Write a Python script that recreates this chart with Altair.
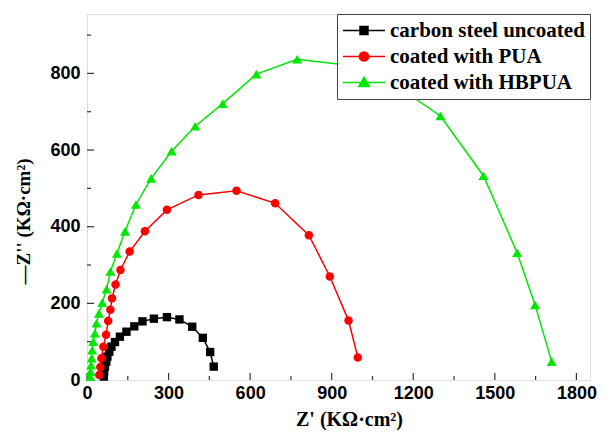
import altair as alt
import pandas as pd

# ---------------- data ----------------
series_names = ["carbon steel uncoated", "coated with PUA", "coated with HBPUA"]

steel_x = [62, 63, 66, 71, 75, 82, 90, 103, 121, 145, 174, 204, 246, 294, 340, 387, 426, 453, 466]
steel_y = [9, 22, 35, 48, 61, 74, 87, 99, 113, 126, 140, 153, 160, 164, 158, 139, 110, 73, 35]

pua_x = [45, 49, 53, 60, 70, 78, 86, 92, 105, 123, 157, 213, 294, 410, 550, 692, 816, 893, 962, 996]
pua_y = [13, 34, 57, 87, 118, 154, 183, 213, 249, 287, 335, 388, 444, 483, 494, 461, 378, 270, 155, 59]

hb_x = [12, 13, 15, 17, 19, 23, 29, 35, 44, 56, 72, 86, 110, 140, 180, 236, 311, 398, 499, 623, 773, 1040, 1300, 1458, 1582, 1648, 1709]
hb_y = [9, 22, 39, 57, 78, 100, 122, 148, 174, 202, 237, 283, 330, 388, 458, 526, 597, 662, 721, 798, 837, 815, 689, 533, 332, 196, 48]

x_major = [0, 300, 600, 900, 1200, 1500, 1800]
x_minor = [150, 450, 750, 1050, 1350, 1650]
y_major = [0, 200, 400, 600, 800]
y_minor = [100, 300, 500, 700, 900]

colors = ["#000000", "#ff0000", "#00e800"]
shapes = ["square", "circle", "triangle-up"]
marker_sizes = [70, 72, 100]

# legend symbols: line through marker (custom paths in unit space)
leg_paths = [
    "M-1,0L1,0M-0.19,-0.19L0.19,-0.19L0.19,0.19L-0.19,0.19Z",
    "M-1,0L1,0M0.22,0A0.22,0.22,0,1,1,-0.22,0A0.22,0.22,0,1,1,0.22,0Z",
    "M-1,0L1,0M0,-0.25L0.25,0.19L-0.25,0.19Z",
]

rows = []
for name, xs_, ys_ in zip(series_names, [steel_x, pua_x, hb_x], [steel_y, pua_y, hb_y]):
    for i, (a, b) in enumerate(zip(xs_, ys_)):
        rows.append({"series": name, "zr": a, "zi": b, "order": i})
df = pd.DataFrame(rows)

W, H = 503, 366
XDOM = [0, 1850]
YDOM = [0, 955]

xs = alt.Scale(domain=XDOM, nice=False, zero=False)
ys = alt.Scale(domain=YDOM, nice=False, zero=False)

legend = alt.Legend(
    title=None,
    orient="top-right",
    offset=0,
    fillColor="white",
    strokeColor="#444444",
    padding=5,
    labelFont="Liberation Serif",
    labelFontWeight="bold",
    labelFontSize=21,
    labelColor="black",
    labelOffset=4,
    labelLimit=400,
    symbolSize=1764,
    symbolStrokeWidth=1.5,
    symbolOpacity=1,
    clipHeight=23,
    rowPadding=3,
)

xaxis = alt.Axis(
    values=x_major, format="d", grid=False, ticks=False, domain=False,
    labelFont="Liberation Sans", labelFontWeight="bold", labelFontSize=18, labelColor="black",
    labelPadding=4, labelOverlap=False, labelFlush=False,
    title="Z' (KΩ·cm²)", titleFont="Liberation Serif", titleFontWeight="bold", titleFontSize=20,
    titleColor="black", titleX=262, titleY=29, titleBaseline="top",
)
yaxis = alt.Axis(
    values=y_major, format="d", grid=False, ticks=False, domain=False,
    labelFont="Liberation Sans", labelFontWeight="bold", labelFontSize=18, labelColor="black",
    labelPadding=7, labelOverlap=False, labelFlush=False,
    title="—Z'' (KΩ·cm²)", titleFont="Liberation Serif", titleFontWeight="bold", titleFontSize=19,
    titleColor="black", titleX=-54, titleY=207,
)

# colour scale for the drawn marks (domain listed in a different order than the legend's
# so the hidden colour legend is not merged with the visible one)
cmap = dict(zip(series_names, colors))
draw_domain = sorted(series_names)
draw_range = [cmap[n] for n in draw_domain]

base = alt.Chart(df)
color_nolegend = alt.Color("series:N", scale=alt.Scale(domain=draw_domain, range=draw_range), legend=None)

lines = base.mark_line(strokeWidth=1.5).encode(
    x=alt.X("zr:Q", scale=xs, axis=xaxis),
    y=alt.Y("zi:Q", scale=ys, axis=yaxis),
    color=color_nolegend,
    detail="series:N",
    order="order:Q",
)

point_layers = []
for name, shp, sz in zip(series_names, shapes, marker_sizes):
    point_layers.append(
        base.transform_filter(alt.datum.series == name)
        .mark_point(filled=True, size=sz, opacity=1, shape=shp)
        .encode(
            x=alt.X("zr:Q", scale=xs),
            y=alt.Y("zi:Q", scale=ys),
            color=color_nolegend,
        )
    )

# invisible layer that only feeds the legend (line-through-marker symbols)
legend_src = base.mark_point(filled=True, opacity=0, strokeWidth=1.5).encode(
    x=alt.X("zr:Q", scale=xs),
    y=alt.Y("zi:Q", scale=ys),
    fill=alt.Fill("series:N", scale=alt.Scale(domain=series_names, range=colors), legend=legend),
    stroke=alt.Stroke("series:N", scale=alt.Scale(domain=series_names, range=colors), legend=legend),
    shape=alt.Shape("series:N", scale=alt.Scale(domain=series_names, range=leg_paths), legend=legend),
)

tick_col = "#333333"
xmaj = alt.Chart(pd.DataFrame({"v": x_major})).mark_rule(color=tick_col, strokeWidth=1.2).encode(
    x=alt.X("v:Q", scale=xs), y=alt.value(H), y2=alt.value(H - 7))
xmin = alt.Chart(pd.DataFrame({"v": x_minor})).mark_rule(color=tick_col, strokeWidth=1.2).encode(
    x=alt.X("v:Q", scale=xs), y=alt.value(H), y2=alt.value(H - 4))
ymaj = alt.Chart(pd.DataFrame({"v": y_major})).mark_rule(color=tick_col, strokeWidth=1.2).encode(
    y=alt.Y("v:Q", scale=ys), x=alt.value(0), x2=alt.value(7))
ymin = alt.Chart(pd.DataFrame({"v": y_minor})).mark_rule(color=tick_col, strokeWidth=1.2).encode(
    y=alt.Y("v:Q", scale=ys), x=alt.value(0), x2=alt.value(4))

chart = alt.layer(xmaj, xmin, ymaj, ymin, lines, *point_layers, legend_src).properties(
    width=W, height=H,
    autosize=alt.AutoSizeParams(type="none"),
    padding={"left": 79, "top": 6, "right": 7, "bottom": 50},
).configure_view(stroke="#333333", strokeWidth=1.6).configure(background="white")

chart.save("out.html", embed_options={"renderer": "svg", "actions": False})
